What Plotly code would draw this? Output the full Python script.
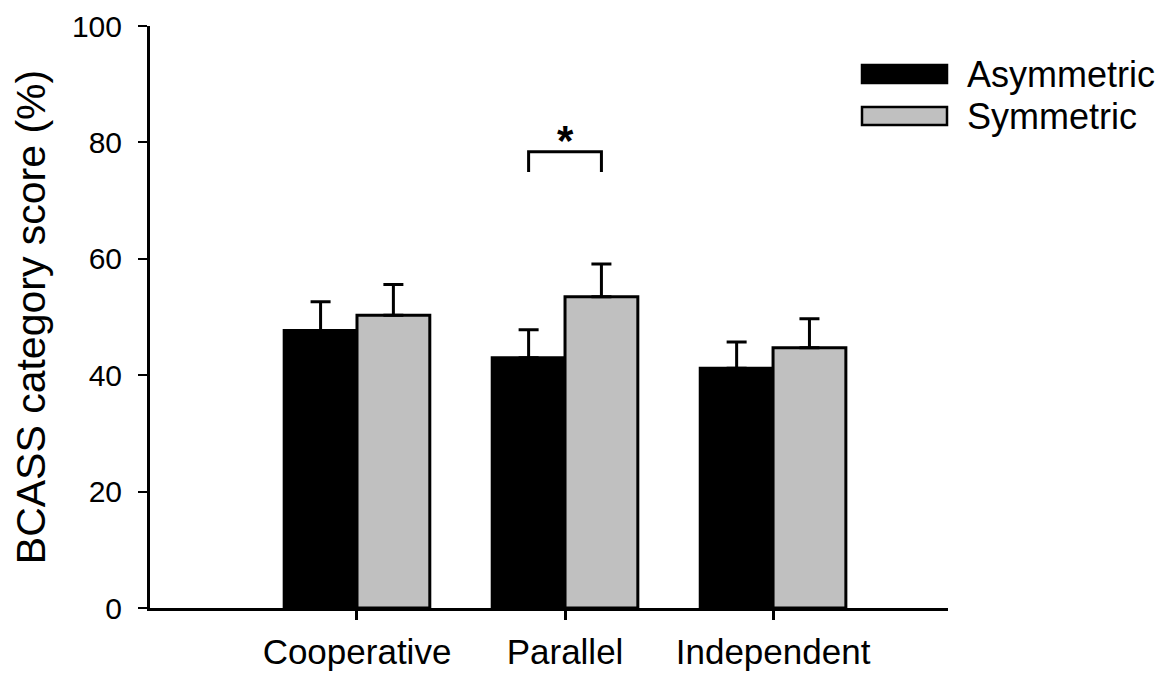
import plotly.graph_objects as go

# Category scores (%) with upper standard-error bars
categories = ["Cooperative", "Parallel", "Independent"]
asym_mean = [47.7, 43.0, 41.2]
asym_err = [4.9, 4.8, 4.5]
sym_mean = [50.3, 53.5, 44.7]
sym_err = [5.3, 5.6, 5.0]
y_ticks = [0, 20, 40, 60, 80, 100]

FONT = "Liberation Sans, Arial, sans-serif"
GRAY = "#c0c0c0"

x_pos = list(range(len(categories)))

# plot-area geometry in pixels (used for paper-coordinate legend placement)
W, H = 1168, 675
L, R, T, B = 150, 220, 26, 67
pw, ph = W - L - R, H - T - B


def px_x(px):
    return (px - L) / pw


def px_y(py):
    return (H - B - py) / ph


fig = go.Figure()
fig.add_trace(go.Bar(
    x=x_pos, y=asym_mean, name="Asymmetric",
    marker=dict(color="black", line=dict(color="black", width=3)),
    error_y=dict(type="data", array=asym_err, arrayminus=[0] * 3, symmetric=False,
                 color="black", thickness=3, width=10),
    showlegend=False,
))
fig.add_trace(go.Bar(
    x=x_pos, y=sym_mean, name="Symmetric",
    marker=dict(color=GRAY, line=dict(color="black", width=3)),
    error_y=dict(type="data", array=sym_err, arrayminus=[0] * 3, symmetric=False,
                 color="black", thickness=3, width=10),
    showlegend=False,
))

# significance bracket between the two Parallel bars
bw = 0.35
par = categories.index("Parallel")
fig.add_trace(go.Scatter(
    x=[par - bw / 2, par - bw / 2, par + bw / 2, par + bw / 2],
    y=[74.9, 78.4, 78.4, 74.9],
    mode="lines", line=dict(color="black", width=3), showlegend=False,
    hoverinfo="skip",
))
fig.add_annotation(x=par, y=78.4, text="<b>*</b>", showarrow=False, yanchor="bottom",
                   yshift=-14, font=dict(family=FONT, size=42, color="black"))

# legend: wide swatches with labels
legend_items = [("Asymmetric", "black", 74), ("Symmetric", GRAY, 116)]
for label, color, cy in legend_items:
    fig.add_shape(type="rect", xref="paper", yref="paper",
                  x0=px_x(862), x1=px_x(947), y0=px_y(cy - 9), y1=px_y(cy + 9),
                  fillcolor=color, line=dict(color="black", width=2.5))
    fig.add_annotation(xref="paper", yref="paper", x=px_x(965), y=px_y(cy),
                       text=label, showarrow=False, xanchor="left", yanchor="middle",
                       font=dict(family=FONT, size=36, color="black"))

fig.update_layout(
    width=W, height=H,
    margin=dict(l=L, r=R, t=T, b=B),
    paper_bgcolor="white", plot_bgcolor="white",
    barmode="group", bargap=0.3, bargroupgap=0,
    font=dict(family=FONT, color="black"),
    xaxis=dict(
        range=[-0.995, 2.841], tickvals=x_pos, ticktext=categories,
        automargin=False,
        showline=True, linecolor="black", linewidth=3,
        ticks="outside", ticklen=9, tickwidth=2.5, tickcolor="black",
        tickfont=dict(family=FONT, size=35, color="black"),
        ticklabelstandoff=2,
        showgrid=False, zeroline=False, fixedrange=True,
    ),
    yaxis=dict(
        range=[0, 100], tickvals=y_ticks,
        automargin=False,
        showline=True, linecolor="black", linewidth=3,
        ticks="outside", ticklen=9, tickwidth=2, tickcolor="black",
        tickfont=dict(family=FONT, size=30, color="black"),
        ticklabelstandoff=10,
        title=dict(text="BCASS category score (%)", standoff=14,
                   font=dict(family=FONT, size=41, color="black")),
        showgrid=False, zeroline=False, fixedrange=True,
    ),
)

fig.write_html("out.html")
